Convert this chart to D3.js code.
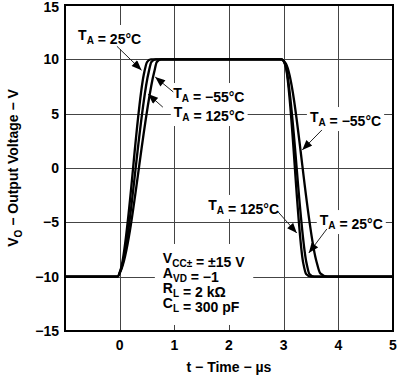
<!DOCTYPE html>
<html lang="en">
<head>
<meta charset="UTF-8">
<title>Output Voltage vs Time</title>
<script src="https://d3js.org/d3.v7.min.js"></script>
<style>
  body { margin: 0; background: #fff; }
  text { font-family: "Liberation Sans", Arial, sans-serif; font-weight: bold; fill: #000; }
</style>
</head>
<body>
<svg width="398" height="376"></svg>
<script>
// voltage follower step response, [time us, volts]
const curve25 = [[-1,-10],[-0.04,-10],[0.02,-9.3],[0.45,8.8],[0.5,9.75],[0.57,10],[2.96,10],[3.04,9.6],[3.6,-8.6],[3.67,-9.7],[3.8,-10],[5,-10]];
const curve125 = [[-1,-10],[-0.04,-10],[0.02,-9.4],[0.53,8.8],[0.58,9.75],[0.66,10],[2.96,10],[3.03,9.5],[3.36,-8.8],[3.41,-9.75],[3.5,-10],[5,-10]];
const curveM55 = [[-1,-10],[-0.04,-10],[0.02,-9.45],[0.63,8.8],[0.68,9.75],[0.76,10],[2.96,10],[3.03,9.5],[3.42,-8.8],[3.47,-9.75],[3.56,-10],[5,-10]];

const xTicks = [0, 1, 2, 3, 4, 5];
const yTicks = [-15, -10, -5, 0, 5, 10, 15];

// temperature callouts: label text, label anchor, arrow start, arrow tip (data units)
const labelTemps = ["25°C", "\u221255°C", "125°C", "\u221255°C", "125°C", "25°C"];
const labelAt = [[-0.76, 11.78], [0.98, 6.44], [0.99, 4.69], [3.48, 4.23], [1.62, -3.86], [3.66, -5.25]];
const arrowFrom = [[-0.05, 11.2], [0.98, 7.0], [0.79, 5.6], [3.70, 3.5], [2.90, -4.05], [3.79, -5.61]];
const arrowTo = [[0.40, 9.0], [0.65, 8.37], [0.52, 6.8], [3.34, 1.66], [3.24, -5.98], [3.46, -7.82]];

const svg = d3.select("svg");
const mLeft = 65, mRight = 393, mTop = 5, mBottom = 331;

const x = d3.scaleLinear().domain([-1, 5]).range([mLeft, mRight]);
const y = d3.scaleLinear().domain([-15, 15]).range([mBottom, mTop]);

svg.append("defs").append("marker")
    .attr("id", "head")
    .attr("markerUnits", "userSpaceOnUse")
    .attr("viewBox", "0 0 10 8")
    .attr("refX", 10).attr("refY", 4)
    .attr("markerWidth", 11).attr("markerHeight", 8)
    .attr("orient", "auto")
  .append("path")
    .attr("d", "M0,0L10,4L0,8Z")
    .attr("fill", "#000");

// grid
const grid = svg.append("g");
grid.selectAll(".gx").data([0, 1, 2, 3, 4]).enter().append("line")
    .attr("x1", d => Math.round(x(d)) + 0.5).attr("x2", d => Math.round(x(d)) + 0.5)
    .attr("y1", mTop).attr("y2", mBottom)
    .attr("stroke", "#444").attr("stroke-width", 1);
grid.selectAll(".gy").data([-10, -5, 0, 5, 10]).enter().append("line")
    .attr("y1", d => Math.round(y(d)) + 0.5).attr("y2", d => Math.round(y(d)) + 0.5)
    .attr("x1", mLeft).attr("x2", mRight)
    .attr("stroke", "#444").attr("stroke-width", 1);

// labels with white boxes that break the grid
const labels = svg.append("g");
function subText(g, parts) {
  const t = g.append("text").attr("font-size", 14);
  parts.forEach(p => {
    if (p.sub) {
      t.append("tspan").attr("font-size", 10).attr("dy", 4).text(p.sub);
      t.append("tspan").attr("dy", -4).text("");
    } else {
      t.append("tspan").text(p.txt);
    }
  });
  return t;
}

labelTemps.forEach((temp, i) => {
  const g = labels.append("g").attr("transform", `translate(${x(labelAt[i][0])},${y(labelAt[i][1])})`);
  const t = subText(g, [{txt: "T"}, {sub: "A"}, {txt: " = " + temp}]);
  const bb = t.node().getBBox();
  g.insert("rect", "text")
    .attr("x", bb.x - 3).attr("y", bb.y - 2)
    .attr("width", bb.width + 6).attr("height", bb.height + 4)
    .attr("fill", "#fff");
});

// conditions block
const cond = labels.append("g").attr("transform", `translate(${x(0.79)},${y(-8.74)})`);
const condLines = [
  [{txt: "V"}, {sub: "CC\u00b1"}, {txt: " = \u00b115 V"}],
  [{txt: "A"}, {sub: "VD"}, {txt: " = \u22121"}],
  [{txt: "R"}, {sub: "L"}, {txt: " = 2 k\u03a9"}],
  [{txt: "C"}, {sub: "L"}, {txt: " = 300 pF"}]
];
const condG = cond.append("g");
condLines.forEach((parts, i) => {
  const g = condG.append("g").attr("transform", `translate(0,${i * 15})`);
  subText(g, parts);
});
const cb = condG.node().getBBox();
cond.insert("rect", "g")
    .attr("x", cb.x - 8).attr("y", cb.y - 6)
    .attr("width", cb.width + 16).attr("height", cb.height + 16)
    .attr("fill", "#fff");

// curves
const line = d3.line().x(d => x(d[0])).y(d => y(d[1])).curve(d3.curveMonotoneX);
svg.append("g").selectAll("path").data([curve25, curve125, curveM55]).enter().append("path")
    .attr("d", line)
    .attr("fill", "none")
    .attr("stroke", "#000")
    .attr("stroke-width", 2.3);

// arrows
svg.append("g").selectAll("line").data(arrowFrom).enter().append("line")
    .attr("x1", d => x(d[0])).attr("y1", d => y(d[1]))
    .attr("x2", (d, i) => x(arrowTo[i][0])).attr("y2", (d, i) => y(arrowTo[i][1]))
    .attr("stroke", "#222").attr("stroke-width", 1)
    .attr("marker-end", "url(#head)");

// frame
svg.append("rect")
    .attr("x", mLeft).attr("y", mTop)
    .attr("width", mRight - mLeft).attr("height", mBottom - mTop)
    .attr("fill", "none").attr("stroke", "#000").attr("stroke-width", 2);

// tick labels
svg.selectAll(".xt").data(xTicks).enter().append("text")
    .attr("x", d => x(d)).attr("y", mBottom + 19)
    .attr("text-anchor", "middle").attr("font-size", 14)
    .text(d => d);
svg.selectAll(".yt").data(yTicks).enter().append("text")
    .attr("x", mLeft - 6).attr("y", d => Math.max(y(d) + 5, 12))
    .attr("text-anchor", "end").attr("font-size", 14)
    .text(d => d < 0 ? "\u2212" + Math.abs(d) : d);

// axis titles
svg.append("text")
    .attr("x", (mLeft + mRight) / 2).attr("y", 372)
    .attr("text-anchor", "middle").attr("font-size", 14)
    .text("t \u2212 Time \u2212 \u00b5s");

const yt = svg.append("text")
    .attr("transform", `translate(18,${(mTop + mBottom) / 2}) rotate(-90)`)
    .attr("text-anchor", "middle").attr("font-size", 14);
yt.append("tspan").text("V");
yt.append("tspan").attr("font-size", 10).attr("dy", 4).text("O");
yt.append("tspan").attr("dy", -4).text(" \u2212 Output Voltage \u2212 V");
</script>
</body>
</html>
